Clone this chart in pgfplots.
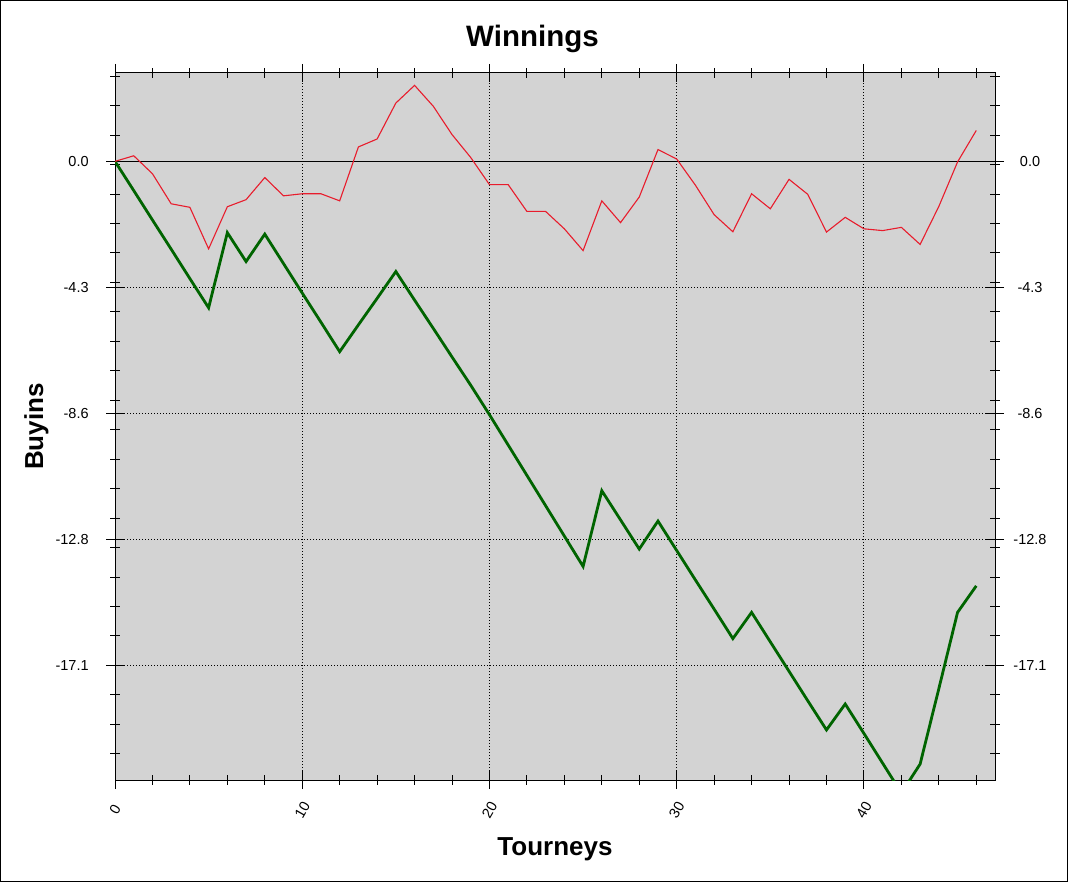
\documentclass[border=0pt]{standalone}
\usepackage{fontspec}
\setmainfont{Liberation Sans}
\usepackage{pgfplots}
\usepackage{pgfplotstable}
\pgfplotsset{compat=1.18}
\definecolor{redline}{RGB}{232,28,44}
\definecolor{greenline}{RGB}{0,100,0}
\definecolor{plotbg}{RGB}{211,211,211}

\pgfplotstableread{
x y
0 0
1 0.19
2 -0.42
3 -1.44
4 -1.56
5 -2.97
6 -1.54
7 -1.30
8 -0.55
9 -1.17
10 -1.10
11 -1.10
12 -1.34
13 0.49
14 0.76
15 1.98
16 2.58
17 1.87
18 0.91
19 0.13
20 -0.79
21 -0.79
22 -1.70
23 -1.70
24 -2.29
25 -3.03
26 -1.34
27 -2.08
28 -1.21
29 0.40
30 0.08
31 -0.81
32 -1.81
33 -2.39
34 -1.10
35 -1.61
36 -0.61
37 -1.12
38 -2.40
39 -1.90
40 -2.29
41 -2.35
42 -2.24
43 -2.82
44 -1.53
45 -0.02
46 1.05
}\redtable

\pgfplotstableread{
x y
0 0
1 -0.99
2 -1.99
3 -2.98
4 -3.98
5 -4.97
6 -2.42
7 -3.40
8 -2.47
9 -3.47
10 -4.47
11 -5.46
12 -6.46
13 -5.55
14 -4.65
15 -3.74
16 -4.71
17 -5.67
18 -6.64
19 -7.60
20 -8.60
21 -9.63
22 -10.66
23 -11.69
24 -12.72
25 -13.75
26 -11.18
27 -12.17
28 -13.16
29 -12.21
30 -13.21
31 -14.21
32 -15.20
33 -16.20
34 -15.31
35 -16.31
36 -17.31
37 -18.31
38 -19.30
39 -18.42
40 -19.42
41 -20.43
42 -21.44
43 -20.46
44 -17.90
45 -15.31
46 -14.41
}\greentable

\begin{document}
\begin{tikzpicture}
\useasboundingbox (0,0) rectangle (534pt,441pt);
\fill[white] (0,0) rectangle (534pt,441pt);
\draw[line width=0.7pt] (0.35pt,0.35pt) rectangle (533.65pt,440.65pt);
\pgfplotsset{common/.style={
  scale only axis, width=440pt, height=353.5pt,
  at={(57.5pt,51pt)}, anchor=south west,
  xmin=0, xmax=47, ymin=-21, ymax=3,
  ytick={0,-4.278,-8.556,-12.834,-17.112},
  yticklabels={0.0,-4.3,-8.6,-12.8,-17.1},
  /pgf/number format/assume math mode=true,
  ticklabel style={font=\fontsize{7.25pt}{8.5pt}\selectfont},
  axis line style={line width=0.5pt},
  tick style={black, line width=0.5pt},
  tick align=center,
  major tick length=9pt,
  minor tick length=4.7pt,
}}
\begin{axis}[common,
  axis background/.style={fill=plotbg},
  xtick={0,10,20,30,40},
  minor xtick={2,4,...,46},
  minor ytick={2.89,1.89,...,-20.11},
  xtick pos=both, ytick pos=both,
  yticklabel pos=left,
  grid=major,
  major grid style={black, line width=0.5pt, dash pattern=on 0.5pt off 1pt},
  xticklabel style={inner sep=0pt, anchor=center, yshift=-10.5pt, rotate=60},
  yticklabel style={inner sep=0pt, anchor=east, xshift=-8.5pt},
  title={Winnings},
  title style={at={(axis description cs:0.4744,1.0198)}, anchor=base,
    font=\fontsize{14.75pt}{17pt}\selectfont\bfseries},
  xlabel={Tourneys},
  xlabel style={at={(axis description cs:0.5,-0.1071)}, anchor=base,
    font=\fontsize{13pt}{15pt}\selectfont\bfseries},
  ylabel={Buyins},
  ylabel style={at={(axis description cs:-0.0818,0.5)}, anchor=base,
    font=\fontsize{13pt}{15pt}\selectfont\bfseries},
  clip=true,
]
\addplot[black, line width=0.5pt] coordinates {(0,0) (47,0)};
\addplot[greenline, line width=1.4pt, line join=miter, mark=none] table[x=x,y=y] {\greentable};
\addplot[redline, line width=0.55pt, mark=none] table[x=x,y=y] {\redtable};
\end{axis}
\begin{axis}[common,
  hide x axis,
  axis y line*=right,
  ytick style={draw=none},
  minor ytick={},
  yticklabel style={inner sep=0pt, anchor=center, xshift=13pt},
]
\end{axis}
\end{tikzpicture}
\end{document}
